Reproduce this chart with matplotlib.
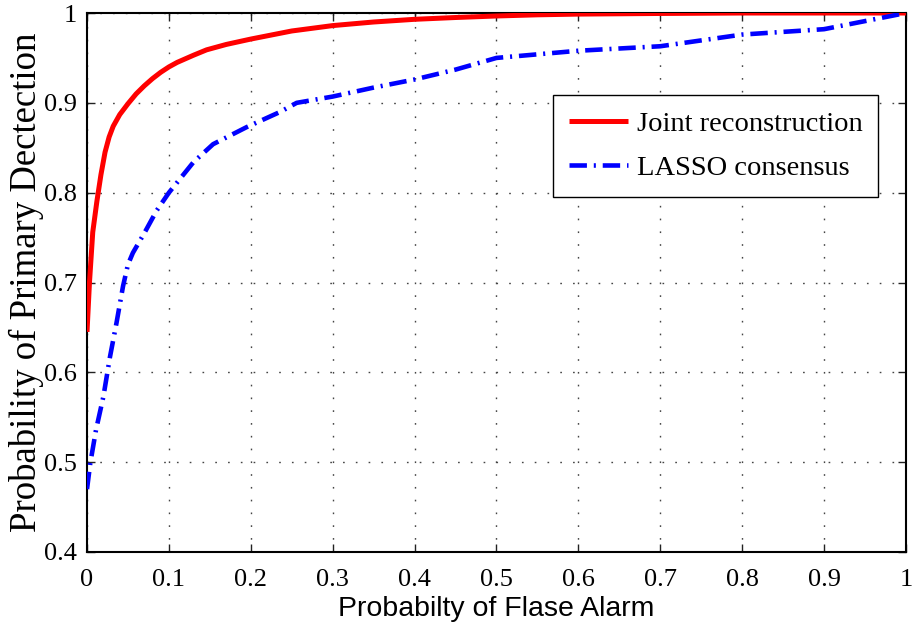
import matplotlib
matplotlib.use("Agg")
import matplotlib.pyplot as plt
from matplotlib import font_manager

# ROC curves: probability of false alarm vs. probability of detection
pfa_joint = [0.0, 0.003, 0.007, 0.012, 0.017, 0.022, 0.027, 0.032, 0.040, 0.050,
             0.060, 0.070, 0.080, 0.090, 0.100, 0.110, 0.120, 0.130, 0.146, 0.170,
             0.200, 0.250, 0.300, 0.350, 0.400, 0.450, 0.500, 0.550, 0.600, 0.700,
             0.800, 1.000]
pd_joint = [0.645, 0.700, 0.756, 0.790, 0.820, 0.845, 0.862, 0.874, 0.887, 0.899,
            0.910, 0.919, 0.927, 0.934, 0.940, 0.945, 0.949, 0.953, 0.959, 0.965,
            0.971, 0.980, 0.986, 0.990, 0.993, 0.995, 0.9967, 0.998, 0.9988, 0.9995,
            1.000, 1.000]

pfa_lasso = [0.0, 0.004, 0.011, 0.020, 0.028, 0.036, 0.044, 0.050, 0.056, 0.070,
             0.085, 0.100, 0.130, 0.154, 0.195, 0.236, 0.256, 0.300, 0.350, 0.400,
             0.450, 0.500, 0.600, 0.700, 0.800, 0.900, 1.000]
pd_lasso = [0.470, 0.499, 0.536, 0.573, 0.617, 0.655, 0.696, 0.720, 0.733, 0.755,
            0.780, 0.800, 0.834, 0.854, 0.873, 0.890, 0.900, 0.907, 0.917, 0.926,
            0.937, 0.950, 0.958, 0.963, 0.976, 0.982, 1.000]

series_labels = ["Joint reconstruction", "LASSO consensus"]
x_ticks = [0, 0.1, 0.2, 0.3, 0.4, 0.5, 0.6, 0.7, 0.8, 0.9, 1]
x_tick_labels = ["0", "0.1", "0.2", "0.3", "0.4", "0.5", "0.6", "0.7", "0.8", "0.9", "1"]
y_ticks = [0.4, 0.5, 0.6, 0.7, 0.8, 0.9, 1.0]
y_tick_labels = ["0.4", "0.5", "0.6", "0.7", "0.8", "0.9", "1"]

serif = ["Liberation Serif", "DejaVu Serif"]
installed = {f.name for f in font_manager.fontManager.ttflist}
if "Liberation Sans Narrow" in installed:
    sans_narrow, xlabel_size = ["Liberation Sans Narrow", "DejaVu Sans"], 25
else:
    sans_narrow, xlabel_size = ["Liberation Sans", "DejaVu Sans"], 20.5

fig = plt.figure(figsize=(9.14, 6.38), dpi=100)
ax = fig.add_axes([0.0952, 0.1348, 0.896, 0.8448])

ax.plot(pfa_joint, pd_joint, color="#ff0000", lw=3.6, solid_capstyle="butt",
        solid_joinstyle="round", label=series_labels[0], zorder=3)
ax.plot(pfa_lasso, pd_lasso, color="#0000ff", lw=3.3,
        linestyle=(0, (3.8, 1.5, 0.45, 1.5)), dash_capstyle="butt",
        label=series_labels[1], zorder=3)

ax.set_xlim(0, 1)
ax.set_ylim(0.4, 1)
ax.set_xticks(x_ticks)
ax.set_xticklabels(x_tick_labels, fontfamily=serif, fontsize=19)
ax.set_yticks(y_ticks)
ax.set_yticklabels(y_tick_labels, fontfamily=serif, fontsize=19)
ax.tick_params(direction="in", length=6, width=1.0, top=True, right=True,
               color="#222222")
ax.tick_params(axis="x", pad=12)
ax.tick_params(axis="y", pad=7)

ax.grid(True, color="#444444", linestyle=(0, (1.2, 8)), linewidth=1.0)
for spine in ax.spines.values():
    spine.set_linewidth(1.5)
    spine.set_color("black")

ax.set_xlabel("Probabilty of Flase Alarm", fontfamily=sans_narrow,
              fontsize=xlabel_size, labelpad=4)
ax.set_ylabel("Probability of Primary Dectection", fontfamily=serif, fontsize=26.5,
              labelpad=0)

leg = ax.legend(loc="upper left", bbox_to_anchor=(0.569, 0.848),
                prop={"family": serif, "size": 20.5}, frameon=True, fancybox=False,
                edgecolor="black", framealpha=1, handlelength=2.1,
                handletextpad=0.3, borderpad=0.55, labelspacing=0.65,
                borderaxespad=0)
leg.get_frame().set_linewidth(1.0)

fig.savefig("out.png", dpi=100)
